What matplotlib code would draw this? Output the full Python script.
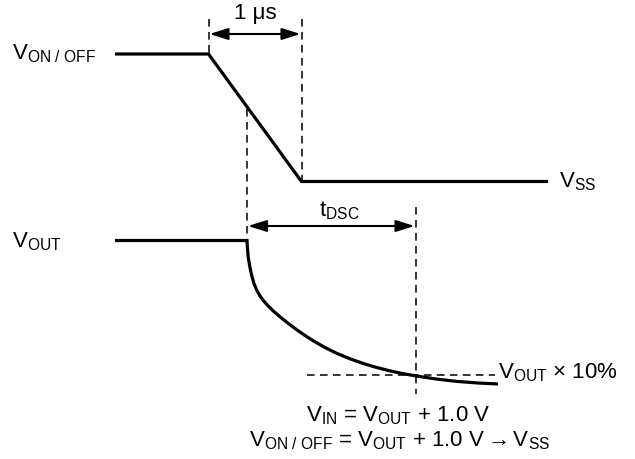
import matplotlib
matplotlib.use('Agg')
import matplotlib.pyplot as plt

plt.rcParams['font.family'] = ['Liberation Sans', 'DejaVu Sans']
plt.rcParams['mathtext.fontset'] = 'custom'
plt.rcParams['mathtext.rm'] = 'Liberation Sans'
plt.rcParams['mathtext.it'] = 'Liberation Sans:italic'

# diagram coordinates (pixels, y grows downward)
on_off_t = [115, 208.5, 301.5, 548]
on_off_v = [55, 55, 182.5, 182.5]

vout_flat_t = [115, 247]
vout_flat_v = [241.5, 241.5]
vout_decay_t = [247.5, 248.3, 250, 251.7, 254, 256.7, 260, 263.3, 268, 273.3,
                280, 286.7, 296.7, 305, 313.3, 325, 336.7, 350, 363.3, 376, 390,
                402, 415, 436, 456.7, 478, 498]
vout_decay_v = [250, 259, 268.5, 276.5, 284.5, 291, 297, 301.5, 306.8, 312,
                317.8, 323.2, 330.8, 336.5, 341.8, 348.5, 354.3, 359.8, 364.5, 368.3, 371.9,
                374.5, 376.8, 380, 382.4, 384, 385]

ten_pct_level = 376
t_fall_start, t_fall_end = 208.5, 301.5
t_dsc_start, t_dsc_end = 247, 415.5

fig = plt.figure(figsize=(6.35, 4.6), dpi=100)
ax = fig.add_axes([0, 0, 1, 1])
ax.set_xlim(0, 635)
ax.set_ylim(460, 0)
ax.axis('off')

solid = dict(color='black', lw=2.3, solid_joinstyle='miter', solid_capstyle='butt')
dash = dict(color='black', lw=1.1, linestyle=(0, (5, 3.5)))

# waveforms
ax.plot(on_off_t, on_off_v, **solid)
ax.plot(vout_flat_t + vout_decay_t, vout_flat_v + vout_decay_v, **solid)

# dashed guides
ax.plot([t_fall_start, t_fall_start], [20, 55], **dash)
ax.plot([t_fall_end, t_fall_end], [20, 182], **dash)
ax.plot([t_dsc_start, t_dsc_start], [110, 241], **dash)
ax.plot([t_dsc_end, t_dsc_end], [208, 395], **dash)
ax.plot([307, 495], [ten_pct_level, ten_pct_level], **dash)

# arrows
arr = dict(arrowstyle='<|-|>,head_length=0.7,head_width=0.22', color='black', lw=1.5,
           mutation_scale=16, shrinkA=0, shrinkB=0)
ax.annotate('', xy=(t_fall_end - 1, 35), xytext=(t_fall_start + 1, 35), arrowprops=arr)
ax.annotate('', xy=(t_dsc_end - 1, 227), xytext=(t_dsc_start + 1, 227), arrowprops=arr)

# labels
fs = 16
ax.text(12, 54, 'V$_{\\mathrm{ON\\ /\\ OFF}}$', fontsize=fs, va='center', ha='left')
ax.text(12, 242, 'V$_{\\mathrm{OUT}}$', fontsize=fs, va='center', ha='left')
ax.text(559, 182, 'V$_{\\mathrm{SS}}$', fontsize=fs, va='center', ha='left')
ax.text(255, 14, '1 \u03bcs', fontsize=fs, va='center', ha='center')
ax.text(339, 211, 't$_{\\mathrm{DSC}}$', fontsize=fs, va='center', ha='center')
ax.text(498, 373, 'V$_{\\mathrm{OUT}}$ \u00d7 10%', fontsize=fs, va='center', ha='left')
ax.text(398, 416, 'V$_{\\mathrm{IN}}$ = V$_{\\mathrm{OUT}}$ + 1.0 V', fontsize=fs,
        va='center', ha='center')
ax.text(400, 441, 'V$_{\\mathrm{ON\\ /\\ OFF}}$ = V$_{\\mathrm{OUT}}$ + 1.0 V$\\rightarrow$V$_{\\mathrm{SS}}$',
        fontsize=fs, va='center', ha='center')

fig.savefig('out.png', dpi=100)
